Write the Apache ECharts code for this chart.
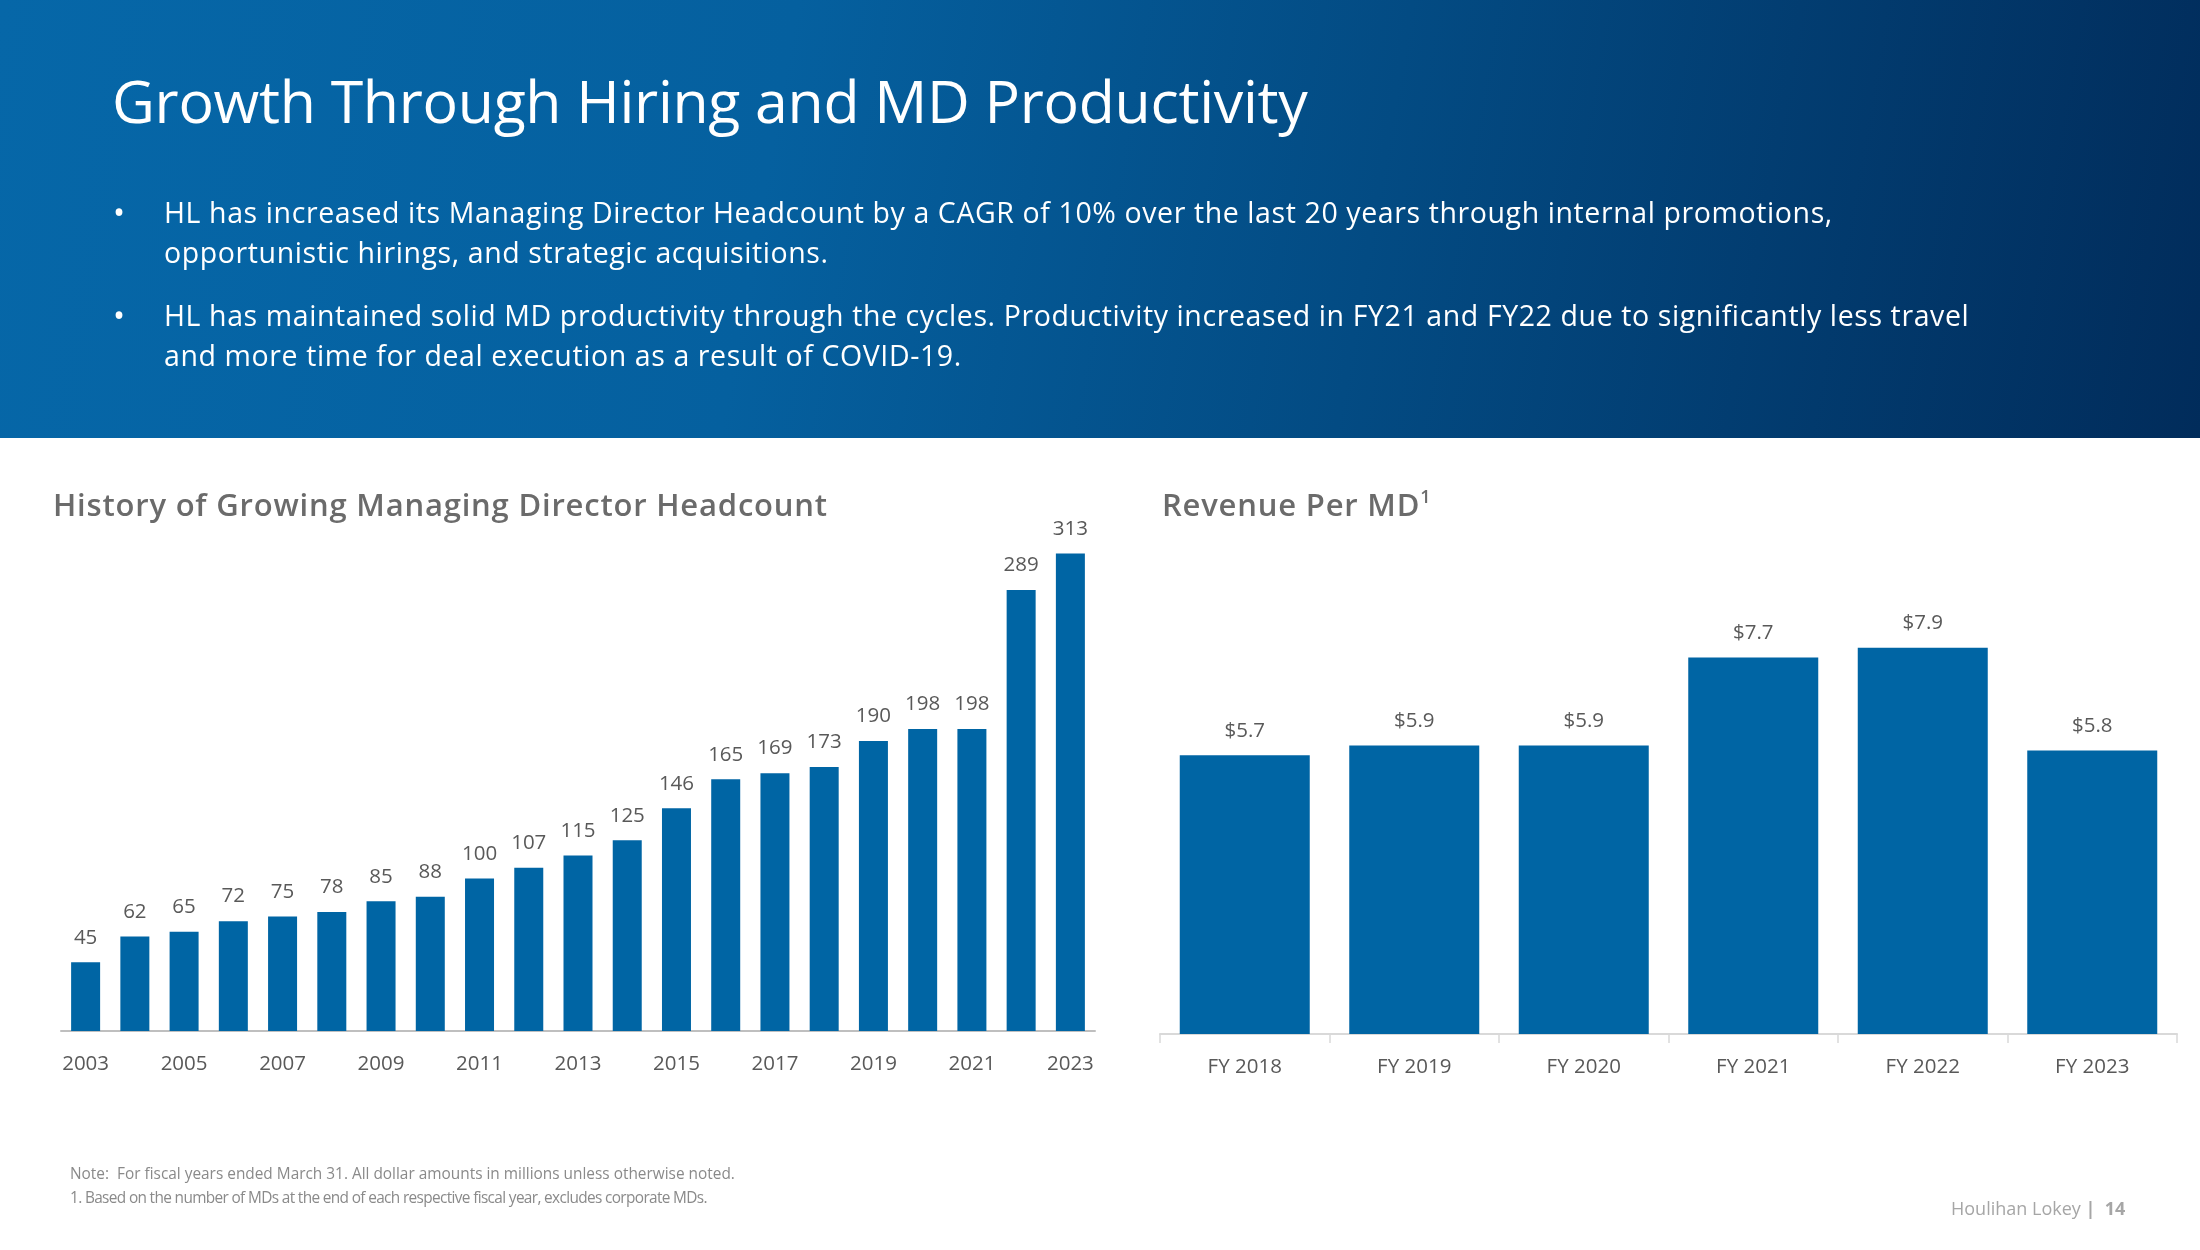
<!DOCTYPE html>
<html>
<head>
<meta charset="utf-8">
<script src="https://cdn.jsdelivr.net/npm/echarts@6/dist/echarts.min.js"></script>
<style>
  html, body { margin:0; padding:0; width:2200px; height:1250px; background:#ffffff; overflow:hidden; }
  body { position:relative; font-family:"Open Sans","Noto Sans",sans-serif; }
  #header { position:absolute; left:0; top:0; width:2200px; height:438px;
    background: linear-gradient(100deg, #0667a8 0%, #05609f 35%, #034b83 62%, #012c5b 100%); }
  #title { position:absolute; left:112px; top:60px; color:#fff; font-size:59px; font-weight:400; white-space:nowrap; letter-spacing:-0.3px; }
  .bullet { position:absolute; left:164px; color:#fff; font-size:28.5px; line-height:40px; letter-spacing:0.6px; white-space:nowrap; }
  .dot { position:absolute; left:113px; color:#fff; font-size:32px; }
  .ctitle { position:absolute; color:#6b6b6b; font-size:31px; font-weight:600; letter-spacing:0.8px; white-space:nowrap; }
  .note { position:absolute; left:70px; color:#8a8a8a; font-size:15.4px; white-space:nowrap; }
  #footer { position:absolute; left:1951px; top:1196px; color:#a6a6a6; font-size:18px; white-space:nowrap; }
  #chart { position:absolute; left:0; top:0; width:2200px; height:1250px; }
</style>
</head>
<body>
<div id="header"></div>
<div id="chart"></div>
<div id="title">Growth Through Hiring and MD Productivity</div>
<div class="dot" style="top:190px;">•</div>
<div class="bullet" style="top:192px;">HL has increased its Managing Director Headcount by a CAGR of 10% over the last 20 years through internal promotions,<br>opportunistic hirings, and strategic acquisitions.</div>
<div class="dot" style="top:293px;">•</div>
<div class="bullet" style="top:295px;">HL has maintained solid MD productivity through the cycles. Productivity increased in FY21 and FY22 due to significantly less travel<br>and more time for deal execution as a result of COVID-19.</div>
<div class="ctitle" style="left:53px; top:483px;">History of Growing Managing Director Headcount</div>
<div class="ctitle" style="left:1162px; top:483px;">Revenue Per MD<sup style="font-size:18px; vertical-align:13px;">1</sup></div>
<div class="note" style="top:1163px;">Note:&nbsp; For fiscal years ended March 31. All dollar amounts in millions unless otherwise noted.</div>
<div class="note" style="top:1187px; letter-spacing:-0.65px;">1. Based on the number of MDs at the end of each respective fiscal year, excludes corporate MDs.</div>
<div id="footer">Houlihan Lokey <span style="color:#a6a6a6; font-weight:700;">|</span>&nbsp; <b>14</b></div>
<script>
// ---- data ----
const headcountYears = ['2003','2004','2005','2006','2007','2008','2009','2010','2011','2012','2013','2014','2015','2016','2017','2018','2019','2020','2021','2022','2023'];
const headcountValues = [45,62,65,72,75,78,85,88,100,107,115,125,146,165,169,173,190,198,198,289,313];
const revenueCategories = ['FY 2018','FY 2019','FY 2020','FY 2021','FY 2022','FY 2023'];
const revenuePerMD = [5.7,5.9,5.9,7.7,7.9,5.8];

const barColor = '#0065a4';
const textColor = '#595959';
const fontFamily = '"Open Sans","Noto Sans",sans-serif';

const chart = echarts.init(document.getElementById('chart'), null, {renderer:'canvas'});
chart.setOption({
  backgroundColor: 'transparent',
  animation: false,
  textStyle: { fontFamily: fontFamily },
  grid: [
    { left: 61, right: 1105, top: 497, bottom: 219, containLabel: false },
    { left: 1160, right: 23, top: 545, bottom: 216, containLabel: false }
  ],
  xAxis: [
    { type:'category', gridIndex:0, data: headcountYears,
      axisLine:{ lineStyle:{ color:'#bfbfbf', width:2 } },
      axisTick:{ show:false },
      axisLabel:{ interval:1, color:textColor, fontSize:20.5, margin:23, fontFamily:fontFamily } },
    { type:'category', gridIndex:1, data: revenueCategories,
      axisLine:{ lineStyle:{ color:'#d9d9d9', width:2 } },
      axisTick:{ show:true, length:9, lineStyle:{ color:'#d9d9d9', width:1.5 } },
      axisLabel:{ color:textColor, fontSize:20.5, margin:23, fontFamily:fontFamily } }
  ],
  yAxis: [
    { type:'value', gridIndex:0, min:0, max:350, show:false, splitLine:{show:false} },
    { type:'value', gridIndex:1, min:0, max:10, show:false, splitLine:{show:false} }
  ],
  series: [
    { type:'bar', xAxisIndex:0, yAxisIndex:0, data: headcountValues, barWidth:29,
      itemStyle:{ color: barColor },
      label:{ show:true, position:'top', distance:14, color:textColor, fontSize:20.5, fontFamily:fontFamily } },
    { type:'bar', xAxisIndex:1, yAxisIndex:1, data: revenuePerMD, barWidth:130,
      itemStyle:{ color: barColor },
      label:{ show:true, position:'top', distance:14, color:textColor, fontSize:20.5, fontFamily:fontFamily,
        formatter: p => '$' + p.value.toFixed(1) } }
  ]
});
</script>
</body>
</html>
